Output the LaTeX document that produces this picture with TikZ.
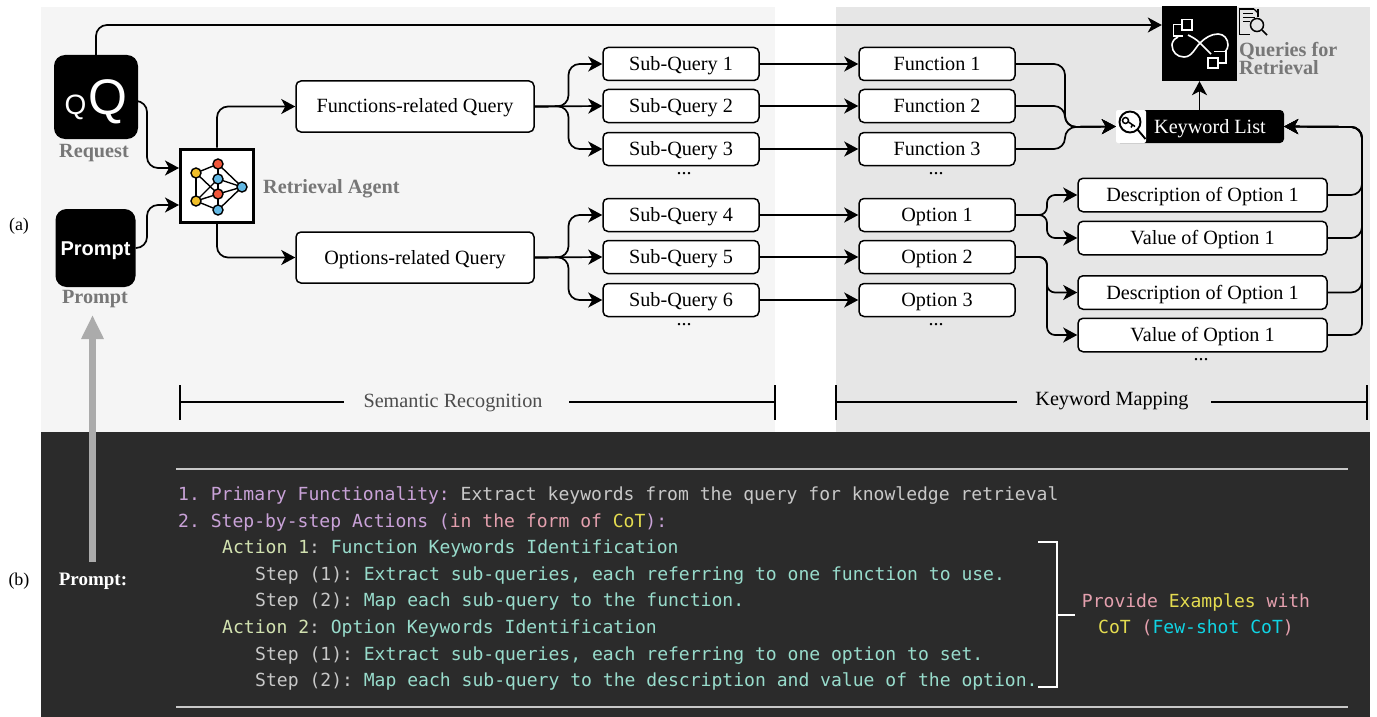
\documentclass[tikz,border=0pt]{standalone}
\usepackage{fontspec}
\setmainfont{Liberation Serif}
\newfontfamily\hsans{Liberation Sans}
\newfontfamily\cmono{DejaVu Sans Mono}
\usetikzlibrary{arrows.meta,calc}
\definecolor{panelL}{HTML}{F5F5F5}
\definecolor{panelR}{HTML}{E6E6E6}
\definecolor{panelD}{HTML}{2B2B2B}
\definecolor{lblgrey}{HTML}{777777}
\definecolor{cpurple}{HTML}{C9A2D8}
\definecolor{cgrey}{HTML}{C8C8C8}
\definecolor{cpink}{HTML}{E4A0AE}
\definecolor{cyellow}{HTML}{E4DC50}
\definecolor{cgreen}{HTML}{D2E2B0}
\definecolor{cteal}{HTML}{98DCCC}
\definecolor{ccyan}{HTML}{10D4E4}
\definecolor{nyellow}{HTML}{F0BE28}
\definecolor{nred}{HTML}{F0563A}
\definecolor{nblue}{HTML}{62B8E4}
\newcommand{\fs}[1]{\fontsize{#1}{#1}\selectfont}
\tikzset{
  conn/.style={line width=1.7pt,draw=black,rounded corners=11pt,-{Stealth[length=14pt,width=15pt,inset=4pt]}},
  connS/.style={conn,rounded corners=8pt},
  rbox/.style={draw=black,fill=white,line width=1.5pt,rounded corners=5pt,inner sep=0pt,font=\fs{20.2},text height=13pt,text depth=0pt},
  qbox/.style={rbox,minimum width=238pt,minimum height=51pt},
  sbox/.style={rbox,minimum width=156pt,minimum height=33pt},
  dbox/.style={rbox,minimum width=249pt,minimum height=33.5pt},
  dotsn/.style={font=\fs{20},inner sep=0pt},
  lbl/.style={font=\fs{20.2}\bfseries,text=lblgrey,inner sep=0pt},
  blackbox/.style={fill=black,rounded corners=11pt,inner sep=0pt},
  brk/.style={line width=1.2pt,draw=black},
  code/.style={anchor=base west,inner sep=0pt,font=\cmono\fs{18.05}\frenchspacing},
  wrule/.style={line width=2pt,draw=cgrey},
  nn/.style={circle,draw=black,line width=1.4pt,minimum size=10pt,inner sep=0pt},
  ne/.style={line width=1.4pt,draw=black},
  icw/.style={line width=1.6pt,draw=white},
  icb/.style={line width=1.3pt,draw=black}
}
\begin{document}
\begin{tikzpicture}[x=1pt,y=-1pt]
\useasboundingbox (0,0) rectangle (1377,717);
\fill[white] (0,0) rectangle (1377,717);
\fill[panelL] (41,7) rectangle (775,432);
\fill[panelR] (836,7) rectangle (1370,432);
\fill[panelD] (41,432) rectangle (1370,717);

% source boxes
\node[blackbox,minimum width=84pt,minimum height=84pt] (req) at (96,97) {};
\node[anchor=base,inner sep=0pt,text=white,font=\hsans\fs{28}] (qs) at (75.5,114) {Q};
\node[anchor=base,inner sep=0pt,text=white,font=\hsans\fs{50}] (qb) at (108,114) {Q};
\node[lbl] (reqlbl) at (94,153) {Request};
\node[blackbox,minimum width=80pt,minimum height=78pt,text=white,font=\hsans\fs{20}\bfseries,text height=14.5pt,text depth=0pt] (pr) at (95.5,248) {Prompt};
\node[lbl] (prlbl) at (95,299) {Prompt};

% agent
\node[draw=black,fill=white,line width=3pt,minimum width=73pt,minimum height=73pt,inner sep=0pt] (agent) at (217,185.5) {};
\foreach \a/\b/\c/\d in {196/173/218/164,196/173/196/201,196/173/218/194,196/201/218/179,196/201/218/194,196/201/218/210,218/164/218/179,218/164/242/187,218/179/242/187,218/194/242/187,218/210/242/187,218/194/218/210,218/179/218/194}
  \draw[ne] (\a,\b) -- (\c,\d);
\node[nn,fill=nyellow] (y1) at (196,173) {};
\node[nn,fill=nyellow] (y2) at (196,201) {};
\node[nn,fill=nred] (r1) at (218,164) {};
\node[nn,fill=nblue] (b1) at (218,179) {};
\node[nn,fill=nred] (r2) at (218,194) {};
\node[nn,fill=nblue] (b2) at (218,210) {};
\node[nn,fill=nblue] (b3) at (242,187) {};
\node[lbl,anchor=west] (aglbl) at (263,188.5) {Retrieval Agent};

% queries
\node[qbox] (fq) at (415,106.5) {Functions-related Query};
\node[qbox] (oq) at (415,257.5) {Options-related Query};

\node[sbox] (s1) at (681,64) {Sub-Query 1};
\node[sbox] (s2) at (681,106) {Sub-Query 2};
\node[sbox] (s3) at (681,149) {Sub-Query 3};
\node[sbox] (s4) at (681,215) {Sub-Query 4};
\node[sbox] (s5) at (681,257) {Sub-Query 5};
\node[sbox] (s6) at (681,300) {Sub-Query 6};

\node[sbox] (f1) at (937,64) {Function 1};
\node[sbox] (f2) at (937,106) {Function 2};
\node[sbox] (f3) at (937,149) {Function 3};
\node[sbox] (o1) at (937,215) {Option 1};
\node[sbox] (o2) at (937,257) {Option 2};
\node[sbox] (o3) at (937,300) {Option 3};

\node[dbox] (d1) at (1202.5,195) {Description of Option 1};
\node[dbox] (v1) at (1202.5,238) {Value of Option 1};
\node[dbox] (d2) at (1202.5,292.5) {Description of Option 1};
\node[dbox] (v2) at (1202.5,335) {Value of Option 1};

\node[dotsn] (dt1) at (684,174) {...};
\node[dotsn] (dt2) at (684,325) {...};
\node[dotsn] (dt3) at (936,174) {...};
\node[dotsn] (dt4) at (936,325) {...};
\node[dotsn] (dt5) at (1201,360) {...};

% keyword list
\node[fill=black,rounded corners=4pt,minimum width=168pt,minimum height=33pt,inner sep=0pt] (kw) at (1200,126.5) {};
\node[inner sep=0pt,text=white,font=\fs{20.2},text height=13pt,text depth=0pt] (kwt) at (1210,126.5) {Keyword List};
\fill[white,rounded corners=2pt] (1116,110) rectangle (1146,143);
\draw[line width=1.9pt] (1130,122) circle[radius=10.5pt];
\draw[line width=1.9pt] (1137.5,129.5) -- (1145.5,139);
\draw[line width=1.5pt] (1125.5,120.5) circle[radius=3pt];
\draw[line width=1.5pt] (1128.5,122) -- (1135,126.5) (1132.5,125) -- (1131,127.5);

% retrieval icon
\node[fill=black,minimum width=75pt,minimum height=75pt,inner sep=0pt] (ret) at (1199.5,43.5) {};
\draw[icw] (1178,37) .. controls (1174,39) and (1172,42) .. (1172,45) .. controls (1172,52) and (1177,57) .. (1184,57) .. controls (1192,57) and (1195,48) .. (1200,43) .. controls (1205,38) and (1211,34) .. (1218,34) .. controls (1224,34) and (1228,39) .. (1228,45) .. controls (1228,47) and (1227,50) .. (1225,52);
\draw[icw] (1188,35) .. controls (1192,37) and (1196,39) .. (1200,43) .. controls (1204,47) and (1207,50) .. (1211,54);
\draw[icw] (1182,19.5) rectangle (1192,30);
\draw[icw] (1182,24.5) -- (1173.5,24.5) -- (1173.5,36) -- (1183,36);
\draw[icw] (1208,58) rectangle (1218,68);
\draw[icw] (1214,51.5) -- (1226,51.5) -- (1226,63) -- (1218,63);

% doc icon
\draw[icb] (1254,9) -- (1239.5,9) -- (1239.5,34.5) -- (1250,34.5);
\draw[icb] (1258,9) -- (1258,17);
\draw[icb] (1254,9) -- (1258,13);
\draw[icb] (1243,13.5) -- (1253,13.5) (1243,17.5) -- (1255,17.5) (1243,21.5) -- (1250,21.5);
\draw[line width=1.5pt] (1257,25) circle[radius=6.5pt];
\draw[line width=1.5pt] (1262,30) -- (1267,35);
\node[anchor=base west,inner sep=0pt,text=lblgrey,align=left,font=\fontsize{20.2}{17}\selectfont\bfseries] (ql) at (1239,75) {Queries for\\Retrieval};

% connectors
\coordinate (reqtop) at (96,55);
\draw[conn] (reqtop) |- (ret.west |- 0,25);
\coordinate (reqout) at ($(req.east)+(0,4)$);
\coordinate (agin1) at ($(agent.west)+(0,-17.5)$);
\coordinate (agin2) at ($(agent.west)+(0,19.5)$);
\draw[conn] (reqout) -- (147,101) -- (147,168) -- (agin1);
\draw[conn] (pr.east) -- (147,248) -- (147,205) -- (agin2);
\draw[conn] (agent.north) |- (fq.west);
\draw[conn] (agent.south) |- (oq.west);
\foreach \q/\a/\b/\c in {fq/s1/s2/s3,oq/s4/s5/s6}{
  \coordinate (m) at ($(\q.east)!.5!(\b.west)$);
  \draw[conn] (\q.east) -- (m) -- (m |- \a.west) -- (\a.west);
  \draw[conn] (\q.east) -- (\b.west);
  \draw[conn] (\q.east) -- (m) -- (m |- \c.west) -- (\c.west);
}
\foreach \a/\b in {s1/f1,s2/f2,s3/f3,s4/o1,s5/o2,s6/o3}
  \draw[conn] (\a.east) -- (\b.west);
\coordinate (busK) at (1065,127);
\foreach \f in {f1,f2,f3}
  \draw[conn] (\f.east) -- (busK |- \f.east) -- (busK) -- (kw.west);
\coordinate (busO) at (1047,215);
\draw[connS] (o1.east) -- (busO) -- (busO |- d1.west) -- (d1.west);
\draw[connS] (o1.east) -- (busO) -- (busO |- v1.west) -- (v1.west);
\coordinate (busP) at (1047,257);
\draw[connS] (o2.east) -- (busP) -- (busP |- d2.west) -- (d2.west);
\draw[connS] (o2.east) -- (busP) -- (busP |- v2.west) -- (v2.west);
\coordinate (busR) at (1362,127);
\foreach \d in {d1,v1,d2,v2}
  \draw[conn] (\d.east) -- (busR |- \d.east) -- (busR) -- (kw.east);
\draw[conn] (kw.north -| ret.south) -- (ret.south);

% span brackets
\coordinate (sa) at (180,402); \coordinate (sb) at (775,402);
\coordinate (ka) at (836,402); \coordinate (kb) at (1367,402);
\node[inner sep=0pt,font=\fs{20.2},text=black!70] (st) at (453,403) {Semantic Recognition};
\node[inner sep=0pt,font=\fs{20.2}] (kt) at (1112,401) {Keyword Mapping};
\draw[brk] (180,385) -- (180,420) (775,385) -- (775,420) (836,385) -- (836,420) (1367,385) -- (1367,420);
\draw[brk] (sa) -- (344,402) (569,402) -- (sb);
\draw[brk] (ka) -- (1017,402) (1211,402) -- (kb);

% grey arrow
\coordinate (ga) at (92.5,562); \coordinate (gb) at (92.5,315);
\draw[line width=7pt,draw=black!33,-{Triangle[length=24pt,width=21pt]}] (ga) -- (gb);

% side labels
\node[inner sep=0pt,font=\fs{18}] (la) at (19,226) {(a)};
\node[inner sep=0pt,font=\fs{18}] (lb) at (19,581) {(b)};
\node[inner sep=0pt,font=\fs{19}\bfseries,text=white] (pl) at (93,581) {Prompt:};

% code panel
\draw[wrule] (176,469) -- (1348,469);
\draw[wrule] (176,707) -- (1348,707);
\node[code] (c1) at (178,500) {\textcolor{cpurple}{1. Primary Functionality:} \textcolor{cgrey}{Extract keywords from the query for knowledge retrieval}};
\node[code] (c2) at (178,527) {\textcolor{cpurple}{2. Step-by-step Actions (}\textcolor{cpink}{in the form of }\textcolor{cyellow}{CoT}\textcolor{cpurple}{):}};
\node[code] (c3) at (222,553) {\textcolor{cgreen}{Action 1}\textcolor{cgrey}{:} \textcolor{cteal}{Function Keywords Identification}};
\node[code] (c4) at (255,580) {\textcolor{cgrey}{Step (1):} \textcolor{cteal}{Extract sub-queries, each referring to one function to use.}};
\node[code] (c5) at (255,606.5) {\textcolor{cgrey}{Step (2):} \textcolor{cteal}{Map each sub-query to the function.}};
\node[code] (c6) at (222,633) {\textcolor{cgreen}{Action 2}\textcolor{cgrey}{:} \textcolor{cteal}{Option Keywords Identification}};
\node[code] (c7) at (255,660) {\textcolor{cgrey}{Step (1):} \textcolor{cteal}{Extract sub-queries, each referring to one option to set.}};
\node[code] (c8) at (255,686) {\textcolor{cgrey}{Step (2):} \textcolor{cteal}{Map each sub-query to the description and value of the option.}};
\draw[line width=1.3pt,draw=white] (1038,542) -- (1057,542) -- (1057,687) -- (1038,687);
\draw[line width=1.8pt,draw=white] (1057,615) -- (1075,615);
\node[code,anchor=base] (e1) at (1196,607) {\textcolor{cpink}{Provide} \textcolor{cyellow}{Examples} \textcolor{cpink}{with}};
\node[code,anchor=base] (e2) at (1196,633) {\textcolor{cyellow}{CoT} \textcolor{cpink}{(}\textcolor{ccyan}{Few-shot CoT}\textcolor{cpink}{)}};
\end{tikzpicture}
\end{document}
